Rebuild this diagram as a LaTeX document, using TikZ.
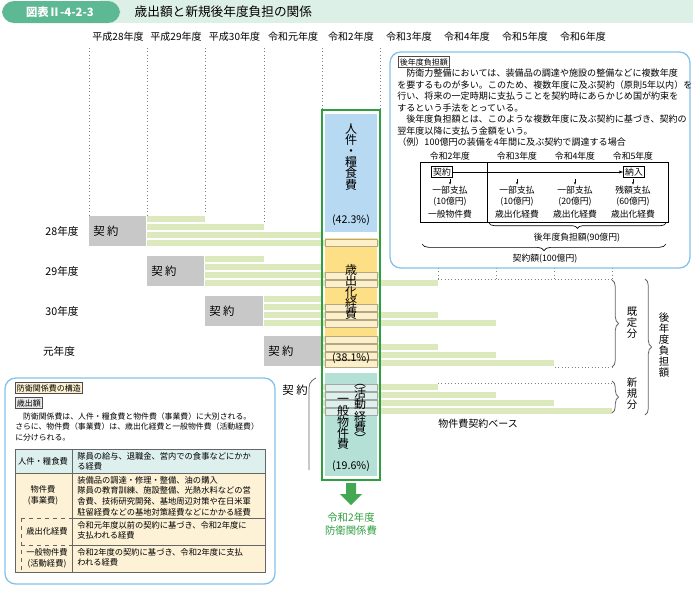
\documentclass[tikz,border=0pt]{standalone}
\usepackage{fontspec}
\setmainfont{Noto Sans CJK JP}
\usetikzlibrary{decorations.pathreplacing,arrows.meta}
\definecolor{hdr}{HTML}{5DB894}
\definecolor{band}{HTML}{DDF0E7}
\definecolor{bar}{HTML}{DBE9BD}
\definecolor{gbox}{HTML}{C8C8C8}
\definecolor{pblue}{HTML}{B7D9F2}
\definecolor{porange}{HTML}{FDDF86}
\definecolor{pcream}{HTML}{FDF0C8}
\definecolor{pteal}{HTML}{B5E0D5}
\definecolor{plteal}{HTML}{DDF1EC}
\definecolor{gline}{HTML}{2E9E3E}
\definecolor{bborder}{HTML}{86C3EA}
\definecolor{tcream}{HTML}{FDF2D6}
\definecolor{tteal}{HTML}{DDF0EE}
\definecolor{tagy}{HTML}{FDF1CF}
\tikzset{
 lbl/.style={font=\fontsize{7.5}{8}\selectfont, inner sep=0pt},
 sm/.style={font=\fontsize{6.6}{8}\selectfont, inner sep=0pt},
 para/.style={font=\fontsize{6.8}{8.6}\selectfont, inner sep=0pt, align=left, anchor=north west},
 contract/.style={fill=gbox, draw=none},
 vtxt/.style={font=\fontsize{9}{8.3}\selectfont, align=center, inner sep=0pt},
 vsm/.style={font=\fontsize{7.8}{8.2}\selectfont, align=center, inner sep=0pt},
 tag/.style={draw=black!70, fill=tagy, font=\fontsize{6}{7}\selectfont, inner sep=1.2pt, line width=0.4pt},
 dotl/.style={dotted, gray, line width=0.5pt},
 rbrace/.style={decorate, decoration={brace, amplitude=5pt}, gray!80!black, line width=0.6pt},
 cell/.style={font=\fontsize{6.2}{8}\selectfont, inner sep=0pt, align=left, anchor=north west},
}
\begin{document}
\begin{tikzpicture}[x=0.75pt,y=-0.75pt]
\useasboundingbox (0,0) rectangle (693,590);
% header
\fill[band] (100,0) rectangle (693,23);
\fill[hdr, rounded corners=9pt] (2,1) rectangle (120,23);
\node[font=\fontsize{8.5}{10}\selectfont\bfseries, text=white] (hd) at (60,12) {図表Ⅱ-4-2-3};
\node[font=\fontsize{9.5}{10}\selectfont, anchor=west] (title) at (130,12) {歳出額と新規後年度負担の関係};
% column positions
\def\cx{{89,147,205,264,322,380,438,496,554,612}}
\foreach \t [count=\i from 0] in {平成28年度,平成29年度,平成30年度,令和元年度,令和2年度,令和3年度,令和4年度,令和5年度,令和6年度}{
  \pgfmathsetmacro\xl{\cx[\i]} \pgfmathsetmacro\xr{\cx[\i+1]}
  \node[lbl] (yr\i) at ({(\xl+\xr)/2},37) {\t};
}
% dotted vertical lines
\draw[dotl] (89,48) -- (89,215);
\draw[dotl] (147,48) -- (147,215);
\draw[dotl] (205,48) -- (205,214);
\draw[dotl] (264,48) -- (264,222);
\draw[dotl] (322,48) -- (322,110);
\draw[dotl] (380,48) -- (380,110);
\foreach \x in {438,496,554,612} \draw[dotl] (\x,268) -- (\x,279);
\draw[dotl] (438,279) -- (612,279);
\draw[dotl] (555,367) -- (612,367);
\draw[dotl] (438,383) -- (612,383);
% row labels
\node[lbl, font=\fontsize{8}{9}\selectfont] (r0) at (62,231) {28年度};
\node[lbl, font=\fontsize{8}{9}\selectfont] (r1) at (62,271) {29年度};
\node[lbl, font=\fontsize{8}{9}\selectfont] (r2) at (62,311) {30年度};
\node[lbl, font=\fontsize{8}{9}\selectfont] (r3) at (59,351) {元年度};
% contracts and bars
\foreach \k in {0,1,2,3}{
  \pgfmathsetmacro\xa{\cx[\k]} \pgfmathsetmacro\xb{\cx[\k+1]}
  \pgfmathsetmacro\yt{216+40*\k}
  \fill[contract] (\xa,\yt) rectangle (\xb-1,\yt+30);
  \node[lbl, font=\fontsize{8.5}{9}\selectfont, anchor=west] (ct\k) at (\xa+4,\yt+15) {契 約};
  \foreach \j in {0,1,2,3}{
    \pgfmathsetmacro\xe{\cx[\k+2+\j]}
    \fill[bar] (\xb,\yt+8*\j) rectangle (\xe,\yt+8*\j+6);
  }
}
\foreach \j in {0,1,2,3}{
  \pgfmathsetmacro\xe{\cx[6+\j]}
  \fill[bar] (322,384+8*\j) rectangle (\xe,384+8*\j+6);
}
\node[lbl, font=\fontsize{8.5}{9}\selectfont] (ct4) at (295,390) {契 約};
\draw[gray!80!black, line width=0.6pt] (316,378) .. controls (309,382) and (309,384) .. (309,392) -- (309,470);
% green column
\draw[gline, line width=0.8pt] (322,110) rectangle (380,480);
\fill[pblue] (325,114) rectangle (377,232);
\node[vtxt] (jin) at (351,157) {人\\件\\・\\糧\\食\\費};
\node[font=\fontsize{8}{9}\selectfont, inner sep=0pt] (p1) at (351,220) {(42.3\%)};
\fill[porange] (325,238) rectangle (377,367);
\foreach \y in {239,272,280,304,312,320,336,344,352,360}
  \draw[pcream!70!black, fill=pcream, line width=0.3pt] (325,\y) rectangle (377,\y+7);
\node[vtxt] (sai) at (351,292) {歳\\出\\化\\経\\費};
\node[font=\fontsize{8}{9}\selectfont, inner sep=0pt] (p2) at (351,358) {(38.1\%)};
\fill[pteal] (325,373) rectangle (377,476);
\foreach \y in {384,392,400,408}
  \draw[gray!70, fill=plteal, line width=0.3pt] (325,\y) rectangle (377,\y+7);
\node[vtxt] (ip) at (343,424) {一\\般\\物\\件\\費};
\node[vtxt] (kd) at (360,414) {︵\\活\\動\\経\\費\\︶};
\node[font=\fontsize{8}{9}\selectfont, inner sep=0pt] (p3) at (351,466) {(19.6\%)};
% green arrow
\fill[gline!90] (346,483) -- (356,483) -- (356,494) -- (362,494) -- (351,505) -- (340,494) -- (346,494) -- cycle;
\node[font=\fontsize{7.8}{10}\selectfont, text=gline, align=center, inner sep=0pt] (res) at (351,524) {令和2年度\\防衛関係費};
% braces right
\draw[rbrace] (612,280) -- (612,367);
\node[vsm] (kt) at (632,323) {既\\定\\分};
\draw[rbrace] (612,381) -- (612,413);
\node[vsm] (sk) at (632,394) {新\\規\\分};
\draw[rbrace] (645,279) -- (645,415);
\node[vsm] (kn) at (664,345) {後\\年\\度\\負\\担\\額};
\node[lbl] (base) at (478,424) {物件費契約ベース};
% top-right box
\draw[bborder, line width=1pt, fill=white, rounded corners=8pt] (390,52) rectangle (690,268);
\node[tag, fill=white, anchor=west] (tg1) at (398,62) {後年度負担額};
\node[para] (pt1) at (397,69) {　防衛力整備においては、装備品の調達や施設の整備などに複数年度\\を要するものが多い。このため、複数年度に及ぶ契約（原則5年以内）を\\行い、将来の一定時期に支払うことを契約時にあらかじめ国が約束を\\するという手法をとっている。\\　後年度負担額とは、このような複数年度に及ぶ契約に基づき、契約の\\翌年度以降に支払う金額をいう。\\（例）100億円の装備を4年間に及ぶ契約で調達する場合};
\foreach \t/\x in {令和2年度/450,令和3年度/517,令和4年度/575,令和5年度/633}
  \node[sm] at (\x,156) {\t};
\draw[line width=0.5pt] (420,162) rectangle (668,222);
\draw[line width=0.5pt] (487,162) -- (487,222);
\node[sm, draw, inner sep=1.2pt] (kk) at (442,172) {契約};
\node[sm, draw, inner sep=1.2pt] (nn) at (634,172) {納入};
\draw[-{Latex[length=3pt]}, line width=0.4pt] (kk) -- (nn);
\foreach \x/\a/\b/\c in {450/一部支払/(10億円)/一般物件費,517/一部支払/(10億円)/歳出化経費,575/一部支払/(20億円)/歳出化経費,633/残額支払/(60億円)/歳出化経費}{
  \draw[-{Latex[length=2pt]}, line width=0.4pt] (\x,179) -- (\x,185);
  \node[sm, align=center] at (\x,196) {\a\\\b};
  \node[sm] at (\x,214) {\c};
}
\draw[decorate, decoration={brace, mirror, amplitude=4pt}, line width=0.5pt] (489,223) -- (666,223);
\node[sm] (k90) at (577,238) {後年度負担額(90億円)};
\draw[decorate, decoration={brace, mirror, amplitude=5pt}, line width=0.5pt] (422,244) -- (666,244);
\node[sm] (k100) at (545,259) {契約額(100億円)};
% bottom-left box
\draw[bborder, line width=1pt, fill=white, rounded corners=8pt] (5,378) rectangle (275,584);
\node[tag, anchor=west] (tg2) at (15,388) {防衛関係費の構造};
\node[tag, fill=black!8, anchor=west] (tg3) at (15,403) {歳出額};
\node[para, font=\fontsize{5.9}{7.9}\selectfont] (pt2) at (15,412) {　防衛関係費は、人件・糧食費と物件費（事業費）に大別される。\\さらに、物件費（事業費）は、歳出化経費と一般物件費（活動経費）\\に分けられる。};
\fill[tteal] (15,449) rectangle (265,473);
\fill[tcream] (15,473) rectangle (265,572);
\draw[gray!80!black, line width=0.6pt] (15,449) rectangle (265,572);
\draw[gray!80!black, line width=0.6pt] (72,449) -- (72,572) (15,473) -- (265,473) (72,518) -- (265,518) (72,545) -- (265,545);
\draw[gray!80!black, dashed, line width=0.5pt] (21,518) -- (72,518) (21,545) -- (72,545) (21,518) -- (21,572);
\node[sm, font=\fontsize{6.2}{8}\selectfont] (c1) at (43,461) {人件・糧食費};
\node[sm, font=\fontsize{6.2}{8}\selectfont, align=center] (c2) at (43,495) {物件費\\(事業費)};
\node[sm, font=\fontsize{6.2}{8}\selectfont] (c3) at (47,531) {歳出化経費};
\node[sm, font=\fontsize{6.2}{8}\selectfont, align=center] (c4) at (47,558) {一般物件費\\(活動経費)};
\node[cell] (d1) at (77,452) {隊員の給与、退職金、営内での食事などにかか\\る経費};
\node[cell] (d2) at (77,476) {装備品の調達・修理・整備、油の購入\\隊員の教育訓練、施設整備、光熱水料などの営\\舎費、技術研究開発、基地周辺対策や在日米軍\\駐留経費などの基地対策経費などにかかる経費};
\node[cell] (d3) at (77,521) {令和元年度以前の契約に基づき、令和2年度に\\支払われる経費};
\node[cell] (d4) at (77,548) {令和2年度の契約に基づき、令和2年度に支払\\われる経費};
\end{tikzpicture}
\end{document}
